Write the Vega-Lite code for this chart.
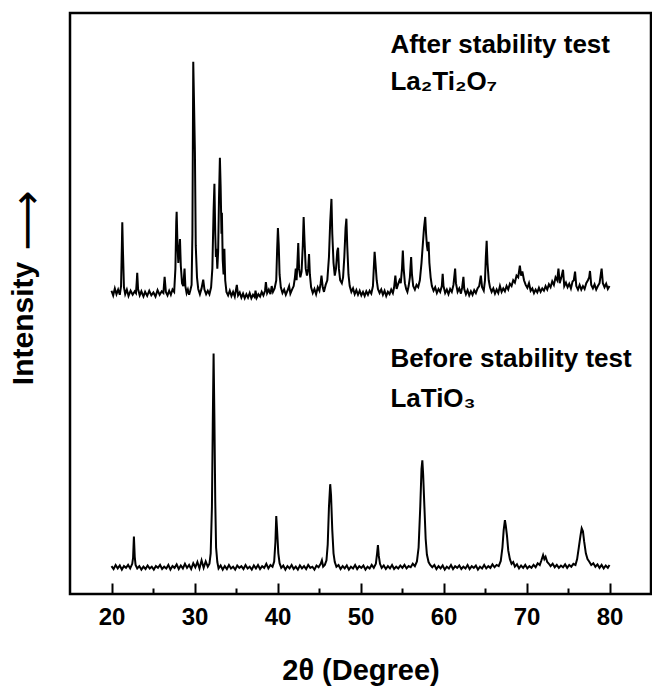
{
  "$schema": "https://vega.github.io/schema/vega-lite/v6.json",
  "width": 581,
  "height": 581,
  "autosize": {"type": "none"},
  "padding": {"left": 70, "top": 13, "right": 1, "bottom": 94},
  "config": {
    "view": {"stroke": "black", "strokeWidth": 2.5},
    "font": "Liberation Sans, DejaVu Sans, sans-serif"
  },
  "datasets": {
    "xrd": [
      {"s":"B","x":20.0,"y":48},{"s":"B","x":20.25,"y":43},{"s":"B","x":20.5,"y":50},{"s":"B","x":20.75,"y":44},{"s":"B","x":21.0,"y":49},{"s":"B","x":21.25,"y":42},{"s":"B","x":21.5,"y":48},{"s":"B","x":21.75,"y":45},{"s":"B","x":22.0,"y":50},{"s":"B","x":22.25,"y":44},{"s":"B","x":22.5,"y":52},{"s":"B","x":22.6,"y":62},{"s":"B","x":22.7,"y":99},{"s":"B","x":22.8,"y":64},{"s":"B","x":22.9,"y":50},{"s":"B","x":23.1,"y":44},{"s":"B","x":23.35,"y":48},{"s":"B","x":23.6,"y":42},{"s":"B","x":23.85,"y":47},{"s":"B","x":24.1,"y":43},{"s":"B","x":24.35,"y":49},{"s":"B","x":24.6,"y":44},{"s":"B","x":24.85,"y":47},{"s":"B","x":25.1,"y":42},{"s":"B","x":25.35,"y":48},{"s":"B","x":25.6,"y":45},{"s":"B","x":25.85,"y":50},{"s":"B","x":26.1,"y":43},{"s":"B","x":26.35,"y":47},{"s":"B","x":26.6,"y":44},{"s":"B","x":26.85,"y":50},{"s":"B","x":27.1,"y":42},{"s":"B","x":27.35,"y":48},{"s":"B","x":27.6,"y":45},{"s":"B","x":27.85,"y":51},{"s":"B","x":28.1,"y":43},{"s":"B","x":28.35,"y":49},{"s":"B","x":28.6,"y":44},{"s":"B","x":28.85,"y":52},{"s":"B","x":29.1,"y":45},{"s":"B","x":29.35,"y":50},{"s":"B","x":29.6,"y":43},{"s":"B","x":29.85,"y":53},{"s":"B","x":30.1,"y":46},{"s":"B","x":30.35,"y":55},{"s":"B","x":30.6,"y":44},{"s":"B","x":30.85,"y":58},{"s":"B","x":31.1,"y":45},{"s":"B","x":31.35,"y":56},{"s":"B","x":31.6,"y":47},{"s":"B","x":31.8,"y":52},{"s":"B","x":31.95,"y":70},{"s":"B","x":32.1,"y":150},{"s":"B","x":32.2,"y":290},{"s":"B","x":32.3,"y":414},{"s":"B","x":32.4,"y":300},{"s":"B","x":32.5,"y":160},{"s":"B","x":32.6,"y":80},{"s":"B","x":32.75,"y":55},{"s":"B","x":32.9,"y":44},{"s":"B","x":33.15,"y":49},{"s":"B","x":33.4,"y":42},{"s":"B","x":33.65,"y":48},{"s":"B","x":33.9,"y":43},{"s":"B","x":34.15,"y":50},{"s":"B","x":34.4,"y":44},{"s":"B","x":34.65,"y":47},{"s":"B","x":34.9,"y":42},{"s":"B","x":35.15,"y":49},{"s":"B","x":35.4,"y":45},{"s":"B","x":35.65,"y":48},{"s":"B","x":35.9,"y":43},{"s":"B","x":36.15,"y":50},{"s":"B","x":36.4,"y":44},{"s":"B","x":36.65,"y":47},{"s":"B","x":36.9,"y":42},{"s":"B","x":37.15,"y":49},{"s":"B","x":37.4,"y":44},{"s":"B","x":37.65,"y":50},{"s":"B","x":37.9,"y":43},{"s":"B","x":38.15,"y":48},{"s":"B","x":38.4,"y":45},{"s":"B","x":38.65,"y":52},{"s":"B","x":38.9,"y":44},{"s":"B","x":39.15,"y":50},{"s":"B","x":39.4,"y":47},{"s":"B","x":39.6,"y":56},{"s":"B","x":39.75,"y":90},{"s":"B","x":39.85,"y":134},{"s":"B","x":39.95,"y":110},{"s":"B","x":40.1,"y":70},{"s":"B","x":40.25,"y":53},{"s":"B","x":40.45,"y":45},{"s":"B","x":40.7,"y":49},{"s":"B","x":40.95,"y":42},{"s":"B","x":41.2,"y":48},{"s":"B","x":41.45,"y":44},{"s":"B","x":41.7,"y":50},{"s":"B","x":41.95,"y":43},{"s":"B","x":42.2,"y":47},{"s":"B","x":42.45,"y":42},{"s":"B","x":42.7,"y":49},{"s":"B","x":42.95,"y":44},{"s":"B","x":43.2,"y":48},{"s":"B","x":43.45,"y":43},{"s":"B","x":43.7,"y":50},{"s":"B","x":43.95,"y":45},{"s":"B","x":44.2,"y":47},{"s":"B","x":44.45,"y":42},{"s":"B","x":44.7,"y":49},{"s":"B","x":44.95,"y":46},{"s":"B","x":45.2,"y":52},{"s":"B","x":45.35,"y":58},{"s":"B","x":45.5,"y":47},{"s":"B","x":45.7,"y":50},{"s":"B","x":45.9,"y":58},{"s":"B","x":46.05,"y":85},{"s":"B","x":46.2,"y":150},{"s":"B","x":46.35,"y":189},{"s":"B","x":46.45,"y":170},{"s":"B","x":46.6,"y":110},{"s":"B","x":46.75,"y":70},{"s":"B","x":46.9,"y":55},{"s":"B","x":47.1,"y":47},{"s":"B","x":47.35,"y":50},{"s":"B","x":47.6,"y":43},{"s":"B","x":47.85,"y":48},{"s":"B","x":48.1,"y":44},{"s":"B","x":48.35,"y":49},{"s":"B","x":48.6,"y":42},{"s":"B","x":48.85,"y":47},{"s":"B","x":49.1,"y":44},{"s":"B","x":49.35,"y":50},{"s":"B","x":49.6,"y":43},{"s":"B","x":49.85,"y":48},{"s":"B","x":50.1,"y":45},{"s":"B","x":50.35,"y":49},{"s":"B","x":50.6,"y":42},{"s":"B","x":50.85,"y":47},{"s":"B","x":51.1,"y":44},{"s":"B","x":51.35,"y":50},{"s":"B","x":51.6,"y":45},{"s":"B","x":51.85,"y":52},{"s":"B","x":52.0,"y":70},{"s":"B","x":52.1,"y":84},{"s":"B","x":52.2,"y":66},{"s":"B","x":52.35,"y":52},{"s":"B","x":52.55,"y":45},{"s":"B","x":52.8,"y":49},{"s":"B","x":53.05,"y":43},{"s":"B","x":53.3,"y":48},{"s":"B","x":53.55,"y":44},{"s":"B","x":53.8,"y":50},{"s":"B","x":54.05,"y":43},{"s":"B","x":54.3,"y":47},{"s":"B","x":54.55,"y":44},{"s":"B","x":54.8,"y":49},{"s":"B","x":55.05,"y":45},{"s":"B","x":55.3,"y":50},{"s":"B","x":55.55,"y":44},{"s":"B","x":55.8,"y":48},{"s":"B","x":56.05,"y":46},{"s":"B","x":56.3,"y":52},{"s":"B","x":56.55,"y":48},{"s":"B","x":56.8,"y":56},{"s":"B","x":57.0,"y":80},{"s":"B","x":57.2,"y":150},{"s":"B","x":57.35,"y":215},{"s":"B","x":57.45,"y":230},{"s":"B","x":57.55,"y":205},{"s":"B","x":57.7,"y":150},{"s":"B","x":57.85,"y":95},{"s":"B","x":58.0,"y":68},{"s":"B","x":58.2,"y":55},{"s":"B","x":58.4,"y":50},{"s":"B","x":58.65,"y":46},{"s":"B","x":58.9,"y":50},{"s":"B","x":59.15,"y":43},{"s":"B","x":59.4,"y":48},{"s":"B","x":59.65,"y":44},{"s":"B","x":59.9,"y":49},{"s":"B","x":60.15,"y":42},{"s":"B","x":60.4,"y":47},{"s":"B","x":60.65,"y":44},{"s":"B","x":60.9,"y":50},{"s":"B","x":61.15,"y":43},{"s":"B","x":61.4,"y":48},{"s":"B","x":61.65,"y":45},{"s":"B","x":61.9,"y":49},{"s":"B","x":62.15,"y":43},{"s":"B","x":62.4,"y":47},{"s":"B","x":62.65,"y":44},{"s":"B","x":62.9,"y":50},{"s":"B","x":63.15,"y":43},{"s":"B","x":63.4,"y":48},{"s":"B","x":63.65,"y":45},{"s":"B","x":63.9,"y":49},{"s":"B","x":64.15,"y":42},{"s":"B","x":64.4,"y":47},{"s":"B","x":64.65,"y":44},{"s":"B","x":64.9,"y":50},{"s":"B","x":65.15,"y":44},{"s":"B","x":65.4,"y":48},{"s":"B","x":65.65,"y":45},{"s":"B","x":65.9,"y":51},{"s":"B","x":66.15,"y":46},{"s":"B","x":66.4,"y":50},{"s":"B","x":66.65,"y":48},{"s":"B","x":66.9,"y":57},{"s":"B","x":67.1,"y":80},{"s":"B","x":67.25,"y":110},{"s":"B","x":67.4,"y":127},{"s":"B","x":67.5,"y":118},{"s":"B","x":67.65,"y":100},{"s":"B","x":67.8,"y":75},{"s":"B","x":68.0,"y":60},{"s":"B","x":68.2,"y":52},{"s":"B","x":68.4,"y":55},{"s":"B","x":68.6,"y":47},{"s":"B","x":68.85,"y":51},{"s":"B","x":69.1,"y":44},{"s":"B","x":69.35,"y":49},{"s":"B","x":69.6,"y":45},{"s":"B","x":69.85,"y":50},{"s":"B","x":70.1,"y":44},{"s":"B","x":70.35,"y":48},{"s":"B","x":70.6,"y":45},{"s":"B","x":70.85,"y":50},{"s":"B","x":71.1,"y":46},{"s":"B","x":71.35,"y":53},{"s":"B","x":71.6,"y":50},{"s":"B","x":71.8,"y":58},{"s":"B","x":72.0,"y":67},{"s":"B","x":72.15,"y":60},{"s":"B","x":72.3,"y":64},{"s":"B","x":72.5,"y":55},{"s":"B","x":72.7,"y":52},{"s":"B","x":72.9,"y":48},{"s":"B","x":73.15,"y":52},{"s":"B","x":73.4,"y":46},{"s":"B","x":73.65,"y":50},{"s":"B","x":73.9,"y":45},{"s":"B","x":74.15,"y":49},{"s":"B","x":74.4,"y":46},{"s":"B","x":74.65,"y":51},{"s":"B","x":74.9,"y":45},{"s":"B","x":75.15,"y":50},{"s":"B","x":75.4,"y":47},{"s":"B","x":75.65,"y":52},{"s":"B","x":75.9,"y":50},{"s":"B","x":76.1,"y":60},{"s":"B","x":76.3,"y":80},{"s":"B","x":76.5,"y":100},{"s":"B","x":76.65,"y":113},{"s":"B","x":76.8,"y":108},{"s":"B","x":76.95,"y":90},{"s":"B","x":77.15,"y":70},{"s":"B","x":77.35,"y":60},{"s":"B","x":77.55,"y":56},{"s":"B","x":77.8,"y":50},{"s":"B","x":78.05,"y":53},{"s":"B","x":78.3,"y":47},{"s":"B","x":78.55,"y":51},{"s":"B","x":78.8,"y":45},{"s":"B","x":79.05,"y":50},{"s":"B","x":79.3,"y":44},{"s":"B","x":79.55,"y":49},{"s":"B","x":79.8,"y":45},{"s":"B","x":80.0,"y":50},
      {"s":"A","x":20.0,"y":522},{"s":"A","x":20.2,"y":514},{"s":"A","x":20.4,"y":526},{"s":"A","x":20.6,"y":516},{"s":"A","x":20.8,"y":524},{"s":"A","x":21.0,"y":515},{"s":"A","x":21.15,"y":530},{"s":"A","x":21.25,"y":600},{"s":"A","x":21.3,"y":640},{"s":"A","x":21.38,"y":590},{"s":"A","x":21.5,"y":528},{"s":"A","x":21.65,"y":516},{"s":"A","x":21.85,"y":524},{"s":"A","x":22.05,"y":513},{"s":"A","x":22.3,"y":522},{"s":"A","x":22.55,"y":515},{"s":"A","x":22.8,"y":521},{"s":"A","x":22.95,"y":518},{"s":"A","x":23.05,"y":540},{"s":"A","x":23.1,"y":553},{"s":"A","x":23.2,"y":525},{"s":"A","x":23.4,"y":514},{"s":"A","x":23.6,"y":521},{"s":"A","x":23.85,"y":512},{"s":"A","x":24.05,"y":520},{"s":"A","x":24.3,"y":513},{"s":"A","x":24.55,"y":522},{"s":"A","x":24.8,"y":514},{"s":"A","x":25.05,"y":519},{"s":"A","x":25.3,"y":512},{"s":"A","x":25.55,"y":523},{"s":"A","x":25.8,"y":515},{"s":"A","x":26.05,"y":521},{"s":"A","x":26.25,"y":518},{"s":"A","x":26.4,"y":546},{"s":"A","x":26.55,"y":520},{"s":"A","x":26.75,"y":514},{"s":"A","x":26.95,"y":522},{"s":"A","x":27.15,"y":515},{"s":"A","x":27.35,"y":524},{"s":"A","x":27.55,"y":520},{"s":"A","x":27.7,"y":560},{"s":"A","x":27.8,"y":640},{"s":"A","x":27.85,"y":658},{"s":"A","x":27.95,"y":600},{"s":"A","x":28.05,"y":570},{"s":"A","x":28.15,"y":590},{"s":"A","x":28.25,"y":611},{"s":"A","x":28.35,"y":565},{"s":"A","x":28.5,"y":535},{"s":"A","x":28.65,"y":530},{"s":"A","x":28.8,"y":560},{"s":"A","x":28.9,"y":530},{"s":"A","x":29.05,"y":518},{"s":"A","x":29.2,"y":524},{"s":"A","x":29.35,"y":515},{"s":"A","x":29.5,"y":523},{"s":"A","x":29.65,"y":532},{"s":"A","x":29.75,"y":620},{"s":"A","x":29.85,"y":916},{"s":"A","x":29.95,"y":840},{"s":"A","x":30.05,"y":760},{"s":"A","x":30.15,"y":600},{"s":"A","x":30.3,"y":545},{"s":"A","x":30.45,"y":525},{"s":"A","x":30.65,"y":516},{"s":"A","x":30.85,"y":526},{"s":"A","x":31.05,"y":541},{"s":"A","x":31.2,"y":524},{"s":"A","x":31.4,"y":516},{"s":"A","x":31.6,"y":522},{"s":"A","x":31.8,"y":516},{"s":"A","x":32.0,"y":528},{"s":"A","x":32.15,"y":560},{"s":"A","x":32.3,"y":660},{"s":"A","x":32.4,"y":706},{"s":"A","x":32.5,"y":620},{"s":"A","x":32.58,"y":580},{"s":"A","x":32.65,"y":594},{"s":"A","x":32.75,"y":560},{"s":"A","x":32.85,"y":590},{"s":"A","x":32.95,"y":680},{"s":"A","x":33.06,"y":751},{"s":"A","x":33.15,"y":700},{"s":"A","x":33.25,"y":620},{"s":"A","x":33.3,"y":656},{"s":"A","x":33.4,"y":575},{"s":"A","x":33.5,"y":550},{"s":"A","x":33.6,"y":594},{"s":"A","x":33.7,"y":540},{"s":"A","x":33.85,"y":520},{"s":"A","x":34.05,"y":514},{"s":"A","x":34.25,"y":522},{"s":"A","x":34.45,"y":513},{"s":"A","x":34.65,"y":520},{"s":"A","x":34.85,"y":512},{"s":"A","x":35.0,"y":524},{"s":"A","x":35.1,"y":532},{"s":"A","x":35.25,"y":514},{"s":"A","x":35.45,"y":519},{"s":"A","x":35.65,"y":510},{"s":"A","x":35.85,"y":517},{"s":"A","x":36.05,"y":509},{"s":"A","x":36.25,"y":516},{"s":"A","x":36.45,"y":510},{"s":"A","x":36.65,"y":518},{"s":"A","x":36.85,"y":509},{"s":"A","x":37.05,"y":515},{"s":"A","x":37.25,"y":511},{"s":"A","x":37.35,"y":522},{"s":"A","x":37.5,"y":510},{"s":"A","x":37.7,"y":516},{"s":"A","x":37.9,"y":512},{"s":"A","x":38.1,"y":520},{"s":"A","x":38.3,"y":514},{"s":"A","x":38.5,"y":522},{"s":"A","x":38.6,"y":537},{"s":"A","x":38.75,"y":518},{"s":"A","x":38.95,"y":524},{"s":"A","x":39.15,"y":516},{"s":"A","x":39.3,"y":530},{"s":"A","x":39.45,"y":520},{"s":"A","x":39.65,"y":526},{"s":"A","x":39.85,"y":540},{"s":"A","x":39.95,"y":590},{"s":"A","x":40.05,"y":630},{"s":"A","x":40.15,"y":600},{"s":"A","x":40.25,"y":550},{"s":"A","x":40.4,"y":528},{"s":"A","x":40.6,"y":518},{"s":"A","x":40.8,"y":524},{"s":"A","x":41.0,"y":515},{"s":"A","x":41.2,"y":522},{"s":"A","x":41.4,"y":530},{"s":"A","x":41.55,"y":517},{"s":"A","x":41.75,"y":524},{"s":"A","x":41.95,"y":530},{"s":"A","x":42.1,"y":545},{"s":"A","x":42.2,"y":560},{"s":"A","x":42.3,"y":540},{"s":"A","x":42.4,"y":570},{"s":"A","x":42.5,"y":604},{"s":"A","x":42.6,"y":560},{"s":"A","x":42.75,"y":545},{"s":"A","x":42.9,"y":555},{"s":"A","x":43.05,"y":600},{"s":"A","x":43.15,"y":649},{"s":"A","x":43.25,"y":610},{"s":"A","x":43.4,"y":560},{"s":"A","x":43.55,"y":548},{"s":"A","x":43.7,"y":560},{"s":"A","x":43.8,"y":585},{"s":"A","x":43.9,"y":550},{"s":"A","x":44.05,"y":528},{"s":"A","x":44.25,"y":518},{"s":"A","x":44.45,"y":525},{"s":"A","x":44.65,"y":516},{"s":"A","x":44.85,"y":528},{"s":"A","x":45.05,"y":522},{"s":"A","x":45.2,"y":535},{"s":"A","x":45.3,"y":548},{"s":"A","x":45.45,"y":528},{"s":"A","x":45.6,"y":520},{"s":"A","x":45.8,"y":532},{"s":"A","x":46.0,"y":540},{"s":"A","x":46.2,"y":580},{"s":"A","x":46.35,"y":640},{"s":"A","x":46.5,"y":680},{"s":"A","x":46.6,"y":620},{"s":"A","x":46.75,"y":570},{"s":"A","x":46.9,"y":548},{"s":"A","x":47.05,"y":560},{"s":"A","x":47.2,"y":590},{"s":"A","x":47.3,"y":596},{"s":"A","x":47.4,"y":560},{"s":"A","x":47.55,"y":540},{"s":"A","x":47.75,"y":535},{"s":"A","x":47.9,"y":545},{"s":"A","x":48.05,"y":580},{"s":"A","x":48.2,"y":630},{"s":"A","x":48.3,"y":646},{"s":"A","x":48.4,"y":600},{"s":"A","x":48.55,"y":550},{"s":"A","x":48.7,"y":530},{"s":"A","x":48.9,"y":520},{"s":"A","x":49.1,"y":526},{"s":"A","x":49.3,"y":516},{"s":"A","x":49.5,"y":523},{"s":"A","x":49.7,"y":515},{"s":"A","x":49.9,"y":522},{"s":"A","x":50.1,"y":514},{"s":"A","x":50.3,"y":520},{"s":"A","x":50.5,"y":513},{"s":"A","x":50.7,"y":521},{"s":"A","x":50.9,"y":515},{"s":"A","x":51.1,"y":522},{"s":"A","x":51.3,"y":517},{"s":"A","x":51.5,"y":530},{"s":"A","x":51.6,"y":560},{"s":"A","x":51.7,"y":589},{"s":"A","x":51.8,"y":570},{"s":"A","x":51.95,"y":540},{"s":"A","x":52.1,"y":525},{"s":"A","x":52.3,"y":518},{"s":"A","x":52.5,"y":524},{"s":"A","x":52.7,"y":515},{"s":"A","x":52.9,"y":522},{"s":"A","x":53.1,"y":513},{"s":"A","x":53.3,"y":520},{"s":"A","x":53.5,"y":516},{"s":"A","x":53.7,"y":524},{"s":"A","x":53.9,"y":518},{"s":"A","x":54.05,"y":528},{"s":"A","x":54.2,"y":548},{"s":"A","x":54.35,"y":525},{"s":"A","x":54.5,"y":532},{"s":"A","x":54.7,"y":540},{"s":"A","x":54.85,"y":535},{"s":"A","x":55.0,"y":560},{"s":"A","x":55.1,"y":591},{"s":"A","x":55.2,"y":560},{"s":"A","x":55.35,"y":535},{"s":"A","x":55.5,"y":525},{"s":"A","x":55.65,"y":520},{"s":"A","x":55.8,"y":530},{"s":"A","x":55.95,"y":545},{"s":"A","x":56.1,"y":580},{"s":"A","x":56.2,"y":550},{"s":"A","x":56.35,"y":530},{"s":"A","x":56.55,"y":524},{"s":"A","x":56.75,"y":532},{"s":"A","x":56.95,"y":528},{"s":"A","x":57.15,"y":540},{"s":"A","x":57.35,"y":570},{"s":"A","x":57.5,"y":600},{"s":"A","x":57.65,"y":630},{"s":"A","x":57.8,"y":649},{"s":"A","x":57.9,"y":620},{"s":"A","x":58.0,"y":600},{"s":"A","x":58.1,"y":590},{"s":"A","x":58.2,"y":606},{"s":"A","x":58.3,"y":570},{"s":"A","x":58.45,"y":545},{"s":"A","x":58.6,"y":530},{"s":"A","x":58.8,"y":522},{"s":"A","x":59.0,"y":528},{"s":"A","x":59.2,"y":518},{"s":"A","x":59.4,"y":525},{"s":"A","x":59.6,"y":520},{"s":"A","x":59.8,"y":530},{"s":"A","x":59.9,"y":551},{"s":"A","x":60.0,"y":530},{"s":"A","x":60.2,"y":518},{"s":"A","x":60.4,"y":524},{"s":"A","x":60.6,"y":516},{"s":"A","x":60.8,"y":525},{"s":"A","x":61.0,"y":520},{"s":"A","x":61.2,"y":532},{"s":"A","x":61.4,"y":560},{"s":"A","x":61.5,"y":535},{"s":"A","x":61.7,"y":520},{"s":"A","x":61.9,"y":526},{"s":"A","x":62.1,"y":517},{"s":"A","x":62.25,"y":528},{"s":"A","x":62.4,"y":546},{"s":"A","x":62.5,"y":525},{"s":"A","x":62.7,"y":516},{"s":"A","x":62.9,"y":523},{"s":"A","x":63.1,"y":514},{"s":"A","x":63.3,"y":521},{"s":"A","x":63.5,"y":515},{"s":"A","x":63.7,"y":523},{"s":"A","x":63.9,"y":518},{"s":"A","x":64.1,"y":526},{"s":"A","x":64.3,"y":530},{"s":"A","x":64.5,"y":548},{"s":"A","x":64.65,"y":528},{"s":"A","x":64.85,"y":522},{"s":"A","x":65.0,"y":540},{"s":"A","x":65.1,"y":580},{"s":"A","x":65.2,"y":608},{"s":"A","x":65.3,"y":570},{"s":"A","x":65.45,"y":540},{"s":"A","x":65.6,"y":528},{"s":"A","x":65.8,"y":520},{"s":"A","x":66.0,"y":526},{"s":"A","x":66.2,"y":517},{"s":"A","x":66.4,"y":524},{"s":"A","x":66.6,"y":518},{"s":"A","x":66.8,"y":530},{"s":"A","x":67.0,"y":520},{"s":"A","x":67.2,"y":526},{"s":"A","x":67.4,"y":521},{"s":"A","x":67.6,"y":530},{"s":"A","x":67.8,"y":524},{"s":"A","x":68.0,"y":534},{"s":"A","x":68.2,"y":530},{"s":"A","x":68.4,"y":540},{"s":"A","x":68.6,"y":536},{"s":"A","x":68.8,"y":548},{"s":"A","x":69.0,"y":545},{"s":"A","x":69.2,"y":565},{"s":"A","x":69.35,"y":548},{"s":"A","x":69.5,"y":555},{"s":"A","x":69.7,"y":540},{"s":"A","x":69.9,"y":532},{"s":"A","x":70.1,"y":527},{"s":"A","x":70.3,"y":535},{"s":"A","x":70.5,"y":522},{"s":"A","x":70.7,"y":526},{"s":"A","x":70.9,"y":518},{"s":"A","x":71.1,"y":524},{"s":"A","x":71.3,"y":519},{"s":"A","x":71.5,"y":527},{"s":"A","x":71.7,"y":520},{"s":"A","x":71.9,"y":526},{"s":"A","x":72.1,"y":522},{"s":"A","x":72.3,"y":530},{"s":"A","x":72.5,"y":524},{"s":"A","x":72.7,"y":533},{"s":"A","x":72.9,"y":528},{"s":"A","x":73.1,"y":538},{"s":"A","x":73.3,"y":532},{"s":"A","x":73.5,"y":545},{"s":"A","x":73.7,"y":540},{"s":"A","x":73.85,"y":560},{"s":"A","x":74.0,"y":535},{"s":"A","x":74.2,"y":545},{"s":"A","x":74.4,"y":558},{"s":"A","x":74.55,"y":530},{"s":"A","x":74.75,"y":536},{"s":"A","x":74.95,"y":528},{"s":"A","x":75.15,"y":534},{"s":"A","x":75.35,"y":526},{"s":"A","x":75.55,"y":538},{"s":"A","x":75.7,"y":540},{"s":"A","x":75.85,"y":555},{"s":"A","x":76.0,"y":530},{"s":"A","x":76.2,"y":524},{"s":"A","x":76.4,"y":532},{"s":"A","x":76.6,"y":524},{"s":"A","x":76.8,"y":530},{"s":"A","x":77.0,"y":525},{"s":"A","x":77.2,"y":535},{"s":"A","x":77.4,"y":540},{"s":"A","x":77.55,"y":545},{"s":"A","x":77.65,"y":556},{"s":"A","x":77.8,"y":532},{"s":"A","x":78.0,"y":526},{"s":"A","x":78.2,"y":533},{"s":"A","x":78.4,"y":524},{"s":"A","x":78.6,"y":530},{"s":"A","x":78.8,"y":535},{"s":"A","x":78.9,"y":545},{"s":"A","x":79.05,"y":560},{"s":"A","x":79.2,"y":535},{"s":"A","x":79.4,"y":528},{"s":"A","x":79.6,"y":534},{"s":"A","x":79.8,"y":525},{"s":"A","x":80.0,"y":530}
    ],
    "notes": [
      {"x": 53.6, "y": 931, "label": "After stability test"},
      {"x": 53.6, "y": 867, "label": "La₂Ti₂O₇"},
      {"x": 53.6, "y": 391, "label": "Before stability test"},
      {"x": 53.6, "y": 322, "label": "LaTiO₃"}
    ]
  },
  "layer": [
    {
      "data": {"name": "xrd"},
      "mark": {"type": "line", "color": "black", "strokeWidth": 2, "strokeJoin": "miter"},
      "encoding": {
        "x": {
          "field": "x", "type": "quantitative",
          "scale": {"domain": [15, 85], "nice": false, "zero": false},
          "axis": {
            "values": [20, 30, 40, 50, 60, 70, 80],
            "grid": false, "domain": false,
            "tickColor": "black", "tickWidth": 2, "tickSize": -11,
            "labelPadding": 22, "labelFontSize": 24, "labelFontWeight": "bold",
            "labelColor": "black", "labelFont": "Liberation Sans", "labelBaseline": "top",
            "title": "2θ (Degree)", "titleFontSize": 29, "titleFontWeight": "bold",
            "titleColor": "black", "titleFont": "Liberation Sans",
            "titleBaseline": "alphabetic", "titleY": 85
          }
        },
        "y": {
          "field": "y", "type": "quantitative",
          "scale": {"domain": [0, 1000], "nice": false},
          "axis": {
            "orient": "left",
            "ticks": false, "labels": false, "domain": false, "grid": false,
            "title": "Intensity", "titleFontSize": 30, "titleFontWeight": "bold",
            "titleColor": "black", "titleFont": "Liberation Sans",
            "titleAngle": -90, "titleAlign": "center", "titleBaseline": "middle",
            "titleX": -47, "titleY": 310
          }
        },
        "detail": {"field": "s", "type": "nominal"}
      }
    },
    {
      "data": {"name": "notes"},
      "mark": {"type": "text", "align": "left", "baseline": "alphabetic", "fontSize": 26, "fontWeight": "bold", "font": "Liberation Sans, DejaVu Sans", "color": "black"},
      "encoding": {
        "x": {
          "field": "x", "type": "quantitative",
          "axis": {
            "orient": "bottom",
            "values": [25, 35, 45, 55, 65, 75],
            "grid": false, "domain": false, "labels": false, "title": null,
            "tickColor": "black", "tickWidth": 2, "tickSize": -6
          }
        },
        "y": {
          "field": "y", "type": "quantitative",
          "axis": {
            "orient": "left",
            "ticks": false, "labels": false, "domain": false, "grid": false,
            "title": "⟶", "titleFontSize": 42, "titleFontWeight": "normal",
            "titleColor": "black", "titleFont": "DejaVu Sans",
            "titleAngle": -90, "titleAlign": "center", "titleBaseline": "middle",
            "titleX": -43, "titleY": 207
          }
        },
        "text": {"field": "label"}
      }
    }
  ],
  "resolve": {"axis": {"x": "independent", "y": "independent"}}
}
